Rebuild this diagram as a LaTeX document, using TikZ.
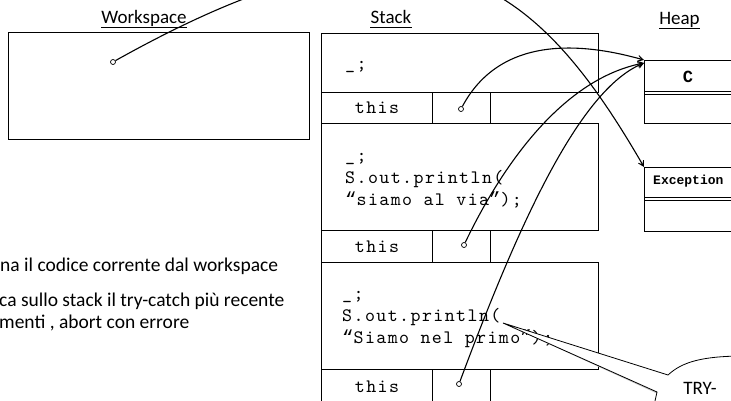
\documentclass[tikz,border=0pt]{standalone}
\usepackage{fontspec}
\setmainfont{Carlito}
\newfontfamily\stackmono{lmmono10-regular.otf}[LetterSpace=7.5]
\newfontfamily\heapmono{Liberation Mono}
\newcommand\openq{{\heapmono “}}
\newcommand\closeq{{\heapmono ”}}
\usetikzlibrary{arrows.meta}

\tikzset{
  box/.style={draw, line width=0.9pt, inner sep=0, anchor=north west},
  heapbox/.style={draw, line width=1.1pt, inner sep=0, anchor=north west},
  divider/.style={line width=0.8pt},
  ptr/.style={circle, draw, fill=white, inner sep=0, minimum size=5pt, line width=0.7pt},
  link/.style={line width=1.1pt, -{Stealth[open, length=10pt, width=11pt, inset=7pt]}},
  code/.style={font=\fontsize{19}{22}\selectfont\stackmono, anchor=base west, inner sep=0},
  cell/.style={box, font=\fontsize{19}{22}\selectfont\stackmono},
  title/.style={font=\fontsize{19}{22}\selectfont, anchor=base, inner sep=0},
  bar/.style={line width=1.8pt},
  note/.style={font=\fontsize{19.5}{22}\selectfont, anchor=base west, inner sep=0},
}

\begin{document}
\begin{tikzpicture}[x=1pt, y=-1pt]
\useasboundingbox (0,0) rectangle (731,401);

% column titles
\node[title] (wsT) at (144,24) {Workspace};
\node[title] (stT) at (391,24) {Stack};
\node[title] (hpT) at (679.5,25) {Heap};
\foreach \t in {wsT, stT, hpT}
  \draw[bar] ([yshift=-3.6pt]\t.base west) -- ([yshift=-3.6pt]\t.base east);

% workspace
\node[box, line width=1pt, minimum width=301pt, minimum height=107pt] (ws) at (8,32) {};
\node[ptr] (p0) at (113,62) {};

% stack frames
\node[box, minimum width=277pt, minimum height=59pt] (f1) at (321,33) {};
\node[cell, minimum width=111pt, minimum height=31pt] (c1a) at (321,92) {this};
\node[box, minimum width=58pt, minimum height=31pt] (c1b) at (432,92) {};
\node[code] (f1l1) at (345,70) {\_;};

\node[box, minimum width=277pt, minimum height=107pt] (f2) at (321,123) {};
\node[cell, minimum width=111pt, minimum height=32pt] (c2a) at (321,230) {this};
\node[box, minimum width=58pt, minimum height=32pt] (c2b) at (432,230) {};
\node[code] (f2l1) at (345,161) {\_;};
\node[code] (f2l2) at (345,183) {S.out.println(};
\node[code] (f2l3) at (345,205) {\openq siamo al via\closeq);};

\node[box, minimum width=277pt, minimum height=107pt] (f3) at (321,262) {};
\node[cell, minimum width=111pt, minimum height=34pt] (c3a) at (321,369) {this};
\node[box, minimum width=58pt, minimum height=34pt] (c3b) at (432,369) {};
\node[code] (f3l1) at (342,299) {\_;};
\node[code] (f3l2) at (342,321) {S.out.println(};
\node[code] (f3l3) at (342,343) {\openq Siamo nel primo\closeq);};

% heap objects
\node[heapbox, minimum width=100pt, minimum height=63pt] (cobj) at (644,60) {};
\draw[divider] (644,91.3) -- (745,91.3);
\draw[divider] (644,94.2) -- (745,94.2);
\node[font=\fontsize{17}{20}\selectfont\heapmono\bfseries] (cname) at (688,77) {C};

\node[heapbox, minimum width=100pt, minimum height=64pt] (eobj) at (644,167) {};
\draw[divider] (644,197.6) -- (745,197.6);
\draw[divider] (644,200.5) -- (745,200.5);
\node[font=\fontsize{13}{15}\selectfont\heapmono\bfseries, anchor=west, inner sep=0] (ename) at (653,181) {Exception};

% side notes
\node[note] (n1) at (0,271) {na il codice corrente dal workspace};
\node[note] (n2) at (-1,306) {ca sullo stack il try-catch più recente};
\node[note] (n3) at (-1,328) {menti , abort con errore};

% references held in the frames
\node[ptr] (p1) at (461,109) {};
\node[ptr] (p2) at (464,245) {};
\node[ptr] (p3) at (459,384) {};

\draw[link] (p0) .. controls (420,-110) and (530,-30) .. (eobj.north west);
\draw[link] (p1) .. controls (500,36) and (580,42) .. (cobj.north west);
\draw[link] (p2) .. controls (500,170) and (560,80) .. ([yshift=-3pt]cobj.north west);
\draw[link] (p3) .. controls (520,220) and (580,90) .. ([yshift=-3pt]cobj.north west);

% callout
\coordinate (tip) at (503,323);
\fill[black!22, shift={(1,2)}] (tip) -- (668,375) .. controls (682,362) and (702,356) .. (745,356)
  -- (745,410) -- (653,410) -- (657,392) -- cycle;
\filldraw[fill=white, line width=0.8pt] (tip) -- (668,375) .. controls (682,362) and (702,356) .. (745,356)
  -- (745,410) -- (653,410) -- (657,392) -- cycle;
\node[font=\fontsize{19}{22}\selectfont] (try) at (700,388) {TRY-};
\end{tikzpicture}
\end{document}
